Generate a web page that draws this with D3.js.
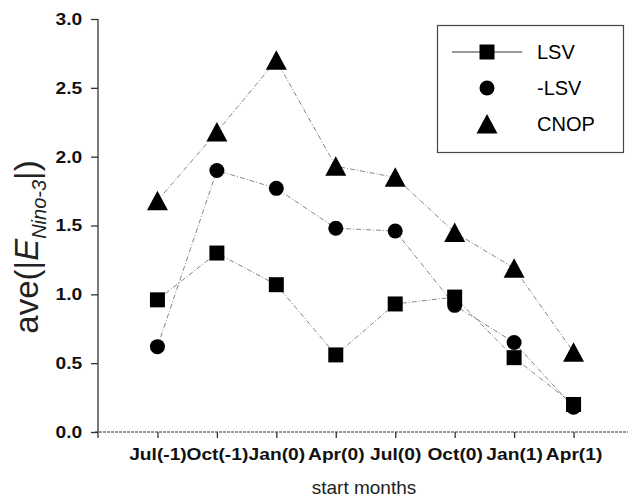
<!DOCTYPE html>
<html>
<head>
<meta charset="utf-8">
<script src="https://cdn.jsdelivr.net/npm/d3@7"></script>
<style>
  html, body { margin: 0; padding: 0; background: #fff; }
  svg { display: block; font-family: "Liberation Sans", Arial, sans-serif; }
</style>
</head>
<body>
<svg id="chart" width="628" height="500"></svg>
<script>
// ---- data ----
const categories = ["Jul(-1)", "Oct(-1)", "Jan(0)", "Apr(0)", "Jul(0)", "Oct(0)", "Jan(1)", "Apr(1)"];
const lsv     = [0.96, 1.30, 1.07, 0.56, 0.93, 0.98, 0.54, 0.20];
const negLsv  = [0.62, 1.90, 1.77, 1.48, 1.46, 0.92, 0.65, 0.18];
const cnop    = [1.68, 2.18, 2.70, 1.93, 1.85, 1.45, 1.19, 0.58];
const yTicks  = [0, 0.5, 1.0, 1.5, 2.0, 2.5, 3.0];
const seriesNames = ["LSV", "-LSV", "CNOP"];

const series = [
  { name: seriesNames[0], values: lsv, shape: "square" },
  { name: seriesNames[1], values: negLsv, shape: "circle" },
  { name: seriesNames[2], values: cnop, shape: "triangle" }
];

const svg = d3.select("#chart");

const x = d3.scaleLinear().domain([0, categories.length + 1]).range([98, 633]);
const y = d3.scaleLinear().domain([0, 3]).range([432, 19]);

function markerPath(shape) {
  if (shape === "square") return d3.symbol().type(d3.symbolSquare).size(15 * 15)();
  if (shape === "circle") return d3.symbol().type(d3.symbolCircle).size(Math.PI * 7.5 * 7.5)();
  return "M0,-10L10.5,9.5L-10.5,9.5Z";
}

// ---- axes ----
const yAxis = d3.axisLeft(y).tickValues(yTicks).tickFormat(d3.format(".1f")).tickSize(7).tickPadding(7);
const gy = svg.append("g").attr("transform", "translate(98,0)").call(yAxis);
gy.select(".domain").remove();
gy.append("line").attr("x1", 0).attr("x2", 0).attr("y1", 19).attr("y2", 438)
  .attr("stroke", "#333").attr("stroke-width", 1.3);
gy.selectAll(".tick line").attr("stroke", "#333").attr("stroke-width", 1.3);
gy.selectAll(".tick text").attr("font-size", 17).attr("font-weight", "bold").attr("fill", "#111")
  .attr("font-family", "Liberation Sans, Arial, sans-serif").attr("transform", "scale(1.13,1)");

const xAxis = d3.axisBottom(x).tickValues(d3.range(1, categories.length + 1))
  .tickFormat(i => categories[i - 1]).tickSize(6).tickPadding(10);
const gx = svg.append("g").attr("transform", "translate(0,432)").call(xAxis);
gx.select(".domain").remove();
gx.append("line").attr("x1", 95).attr("x2", 628).attr("y1", 0).attr("y2", 0)
  .attr("stroke", "#333").attr("stroke-width", 1.2).attr("stroke-dasharray", "3,1");
gx.selectAll(".tick line").attr("stroke", "#333").attr("stroke-width", 1.3);
gx.selectAll(".tick text").attr("font-size", 17).attr("font-weight", "bold").attr("fill", "#111")
  .attr("font-family", "Liberation Sans, Arial, sans-serif").attr("transform", "scale(1.13,1)");

// ---- axis titles ----
svg.append("text").attr("x", 364).attr("y", 494).attr("text-anchor", "middle")
  .attr("font-size", 19).attr("fill", "#222").text("start months");

const yl = svg.append("text").attr("transform", "translate(38,247) rotate(-90)")
  .attr("text-anchor", "middle").attr("font-size", 33).attr("fill", "#222");
yl.append("tspan").text("ave(|");
yl.append("tspan").attr("font-style", "italic").text("E");
yl.append("tspan").attr("font-style", "italic").attr("font-size", 20).attr("dy", 8).text("Nino-3");
yl.append("tspan").attr("dy", -8).text("|)");

// ---- lines ----
const line = d3.line().x((d, i) => x(i + 1)).y(d => y(d));
series.forEach(s => {
  svg.append("path").datum(s.values).attr("d", line)
    .attr("fill", "none").attr("stroke", "#777").attr("stroke-width", 0.9)
    .attr("stroke-dasharray", "5,2,1,2");
});

// ---- markers ----
series.forEach(s => {
  svg.append("g").selectAll("path").data(s.values).join("path")
    .attr("d", markerPath(s.shape))
    .attr("transform", (d, i) => `translate(${x(i + 1)},${y(d)})`)
    .attr("fill", "#000");
});

// ---- legend ----
const lg = svg.append("g");
lg.append("rect").attr("x", 437.5).attr("y", 25.5).attr("width", 186).attr("height", 127)
  .attr("fill", "#fff").attr("stroke", "#444").attr("stroke-width", 1.2);
const rowY = [52, 88, 124];
series.forEach((s, i) => {
  if (i === 0) {
    lg.append("line").attr("x1", 452).attr("x2", 522).attr("y1", rowY[i]).attr("y2", rowY[i])
      .attr("stroke", "#333").attr("stroke-width", 1);
  }
  lg.append("path").attr("d", markerPath(s.shape))
    .attr("transform", `translate(487,${rowY[i]})`).attr("fill", "#000");
  lg.append("text").attr("x", 537).attr("y", rowY[i] + 7).attr("font-size", 20)
    .attr("fill", "#000").text(s.name);
});
</script>
</body>
</html>
